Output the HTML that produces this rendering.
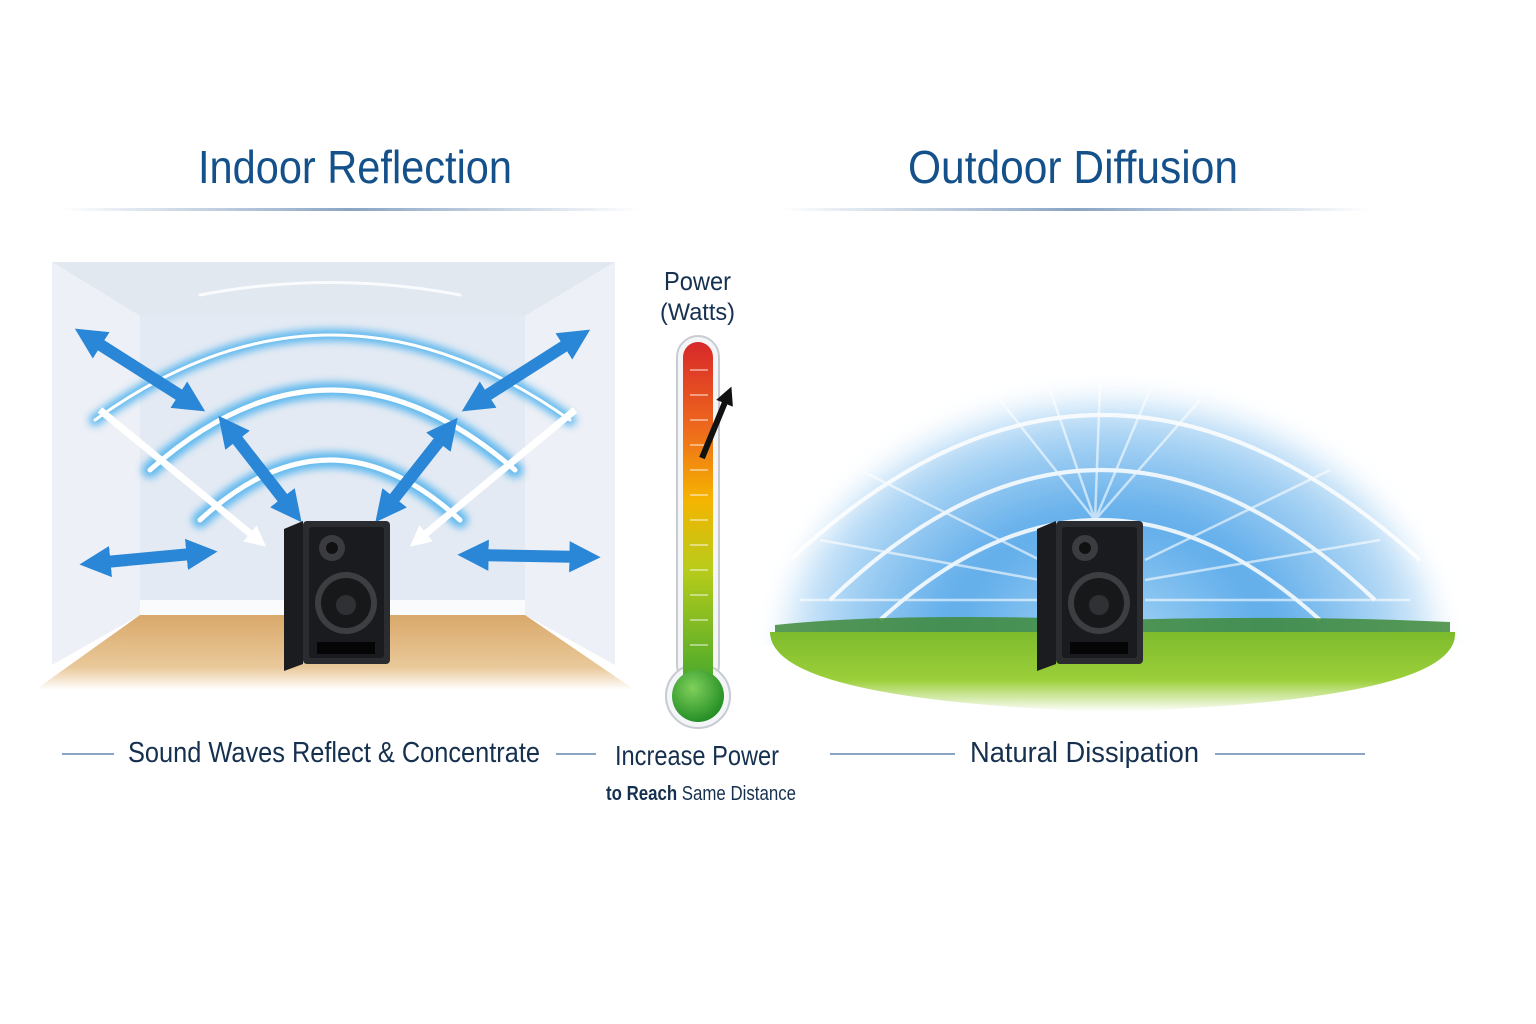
<!DOCTYPE html>
<html><head><meta charset="utf-8"><style>
html,body{margin:0;padding:0;background:#fff}
svg{display:block}
text{font-family:"Liberation Sans",sans-serif}
</style></head><body>
<svg width="1536" height="1024" viewBox="0 0 1536 1024" xmlns="http://www.w3.org/2000/svg">
<defs>
<linearGradient id="ln" x1="0" x2="1"><stop offset="0" stop-color="#8aa4c4" stop-opacity="0"/><stop offset=".5" stop-color="#8aa4c4"/><stop offset="1" stop-color="#8aa4c4" stop-opacity="0"/></linearGradient>
<linearGradient id="floor" x1="0" y1="0" x2="0" y2="1"><stop offset="0" stop-color="#d9a86a"/><stop offset=".7" stop-color="#e9c99a"/><stop offset="1" stop-color="#fff"/></linearGradient>
<linearGradient id="therm" x1="0" y1="0" x2="0" y2="1"><stop offset="0" stop-color="#d8282a"/><stop offset=".25" stop-color="#ee6a1c"/><stop offset=".45" stop-color="#f5b400"/><stop offset=".65" stop-color="#b8cc1a"/><stop offset="1" stop-color="#3fa62e"/></linearGradient>
<radialGradient id="sky" cx="1110" cy="640" r="360" gradientUnits="userSpaceOnUse" gradientTransform="translate(1110 640) scale(1 0.75) translate(-1110 -640)"><stop offset="0" stop-color="#a8d6f6"/><stop offset=".45" stop-color="#5eacea"/><stop offset=".75" stop-color="#a6d2f4"/><stop offset="1" stop-color="#fff"/></radialGradient>
<linearGradient id="grass" x1="0" y1="0" x2="0" y2="1"><stop offset="0" stop-color="#7dbb2c"/><stop offset=".6" stop-color="#9ccf3a"/><stop offset="1" stop-color="#fff"/></linearGradient>
<radialGradient id="bulb" cx=".4" cy=".35" r=".7"><stop offset="0" stop-color="#7fd05a"/><stop offset="1" stop-color="#1f8a22"/></radialGradient>
<filter id="bl"><feGaussianBlur stdDeviation="4"/></filter>
<filter id="bl2" x="-20%" y="-20%" width="140%" height="140%"><feGaussianBlur stdDeviation="14"/></filter>
<clipPath id="skyclip"><rect x="740" y="300" width="760" height="345"/></clipPath>
<marker id="ah" viewBox="0 0 10 10" refX="5" refY="5" markerWidth="2.6" markerHeight="2.6" orient="auto-start-reverse"><path d="M0,0 L10,5 L0,10 z" fill="#2a86d6"/></marker>
<marker id="wh" viewBox="0 0 10 10" refX="5" refY="5" markerWidth="3" markerHeight="3" orient="auto"><path d="M0,0 L10,5 L0,10 z" fill="#fff"/></marker>
<marker id="bk" viewBox="0 0 10 10" refX="5" refY="5" markerWidth="3" markerHeight="3" orient="auto"><path d="M0,0 L10,5 L0,10 z" fill="#111"/></marker>
<g id="spk">
<path d="M0,8 L19,0 L19,143 L0,150 z" fill="#1b1c1f"/>
<rect x="19" y="0" width="87" height="143" rx="4" fill="#2a2c30"/>
<rect x="25" y="6" width="75" height="131" rx="3" fill="#1a1b1e"/>
<circle cx="48" cy="27" r="13" fill="#3a3c40"/><circle cx="48" cy="27" r="6" fill="#111"/>
<circle cx="62" cy="82" r="31" fill="#3c3e42"/><circle cx="62" cy="82" r="25" fill="#17181a"/><circle cx="62" cy="84" r="10" fill="#2f3134"/>
<rect x="33" y="121" width="58" height="12" fill="#050505"/>
</g>
</defs>
<rect width="1536" height="1024" fill="#fff"/>
<text x="198" y="183" font-size="46" fill="#14508a" textLength="314" lengthAdjust="spacingAndGlyphs">Indoor Reflection</text>
<text x="908" y="183" font-size="46" fill="#14508a" textLength="330" lengthAdjust="spacingAndGlyphs">Outdoor Diffusion</text>
<rect x="60" y="208" width="580" height="3" fill="url(#ln)"/>
<rect x="780" y="208" width="590" height="3" fill="url(#ln)"/>

<!-- room -->
<path d="M52,262 L615,262 L525,316 L140,316 z" fill="#e2e8f0"/>
<path d="M52,262 L140,316 L140,615 L52,665 z" fill="#edf0f6"/>
<path d="M615,262 L525,316 L525,615 L615,665 z" fill="#edf0f6"/>
<rect x="140" y="316" width="385" height="299" fill="#e4eaf3"/>
<path d="M140,615 L525,615 L635,690 L35,690 z" fill="url(#floor)"/>
<path d="M140,600 L525,600 L525,615 L140,615 z" fill="#fafbfd"/>
<g fill="none" stroke="#4fb2ee" stroke-linecap="round" filter="url(#bl)" opacity=".9">
<path d="M95,420 Q330,250 570,420" stroke-width="12"/>
<path d="M150,470 Q330,310 515,470" stroke-width="16"/>
<path d="M200,520 Q330,400 460,520" stroke-width="16"/>
</g>
<g fill="none" stroke="#fff" stroke-linecap="round">
<path d="M95,420 Q330,250 570,420" stroke-width="3"/>
<path d="M150,470 Q330,310 515,470" stroke-width="5"/>
<path d="M200,520 Q330,400 460,520" stroke-width="5"/>
<path d="M200,295 Q330,270 460,295" stroke-width="3" opacity=".8"/>
</g>
<g stroke="#fff" stroke-width="7" marker-end="url(#wh)" fill="none">
<line x1="100" y1="410" x2="258" y2="540"/>
<line x1="575" y1="410" x2="418" y2="540"/>
</g>
<g stroke="#2a86d6" stroke-width="12" marker-start="url(#ah)" marker-end="url(#ah)" fill="none">
<line x1="88" y1="337" x2="192" y2="403"/>
<line x1="228" y1="428" x2="292" y2="510"/>
<line x1="577" y1="338" x2="475" y2="403"/>
<line x1="448" y1="430" x2="385" y2="510"/>
<line x1="95" y1="563" x2="202" y2="553"/>
<line x1="473" y1="555" x2="585" y2="557"/>
</g>
<use href="#spk" x="284" y="521"/>

<!-- thermometer -->
<text x="664" y="290" font-size="26" fill="#16304f" textLength="67" lengthAdjust="spacingAndGlyphs">Power</text>
<text x="660" y="320" font-size="24" fill="#16304f" textLength="75" lengthAdjust="spacingAndGlyphs">(Watts)</text>
<rect x="677" y="336" width="42" height="350" rx="21" fill="#f3f5f7" stroke="#c8ccd2" stroke-width="2"/>
<circle cx="698" cy="696" r="32" fill="#f3f5f7" stroke="#c8ccd2" stroke-width="2"/>
<rect x="683" y="342" width="30" height="350" rx="15" fill="url(#therm)"/>
<circle cx="698" cy="696" r="26" fill="url(#bulb)"/>
<g stroke="#fff" stroke-opacity=".6" stroke-width="1.5">
<line x1="690" y1="370" x2="708" y2="370"/><line x1="690" y1="395" x2="708" y2="395"/><line x1="690" y1="420" x2="708" y2="420"/><line x1="690" y1="445" x2="708" y2="445"/><line x1="690" y1="470" x2="708" y2="470"/><line x1="690" y1="495" x2="708" y2="495"/><line x1="690" y1="520" x2="708" y2="520"/><line x1="690" y1="545" x2="708" y2="545"/><line x1="690" y1="570" x2="708" y2="570"/><line x1="690" y1="595" x2="708" y2="595"/><line x1="690" y1="620" x2="708" y2="620"/><line x1="690" y1="645" x2="708" y2="645"/>
</g>
<line x1="702" y1="458" x2="728" y2="395" stroke="#111" stroke-width="6" marker-end="url(#bk)"/>

<!-- outdoor -->
<g clip-path="url(#skyclip)">
<ellipse cx="1110" cy="660" rx="330" ry="260" fill="url(#sky)" filter="url(#bl2)"/>
</g>
<g fill="none" stroke="#fff" stroke-width="4" opacity=".85">
<path d="M790,560 Q1100,270 1420,560"/>
<path d="M830,600 Q1100,340 1375,600"/>
<path d="M880,620 Q1100,420 1320,620"/>
<g stroke-width="2.5" opacity=".7">
<line x1="1095" y1="520" x2="1000" y2="400"/><line x1="1095" y1="520" x2="1050" y2="390"/><line x1="1095" y1="520" x2="1100" y2="385"/><line x1="1095" y1="520" x2="1150" y2="390"/><line x1="1095" y1="520" x2="1200" y2="400"/>
<line x1="1040" y1="560" x2="860" y2="470"/><line x1="1040" y1="580" x2="820" y2="540"/><line x1="1040" y1="600" x2="800" y2="600"/>
<line x1="1145" y1="560" x2="1330" y2="470"/><line x1="1145" y1="580" x2="1380" y2="540"/><line x1="1145" y1="600" x2="1410" y2="600"/>
</g>
</g>
<path d="M775,625 Q900,612 1110,620 Q1300,615 1450,622 L1450,634 L775,636 z" fill="#3f8a3a" opacity=".85"/>
<path d="M770,632 L1455,632 Q1460,700 1110,712 Q770,700 770,632 z" fill="url(#grass)"/>
<use href="#spk" x="1037" y="521"/>

<!-- captions -->
<rect x="62" y="753" width="52" height="2" fill="#8aa4c4"/>
<rect x="556" y="753" width="40" height="2" fill="#8aa4c4"/>
<rect x="830" y="753" width="125" height="2" fill="#8aa4c4"/>
<rect x="1215" y="753" width="150" height="2" fill="#8aa4c4"/>
<text x="128" y="762" font-size="29" fill="#16304f" textLength="412" lengthAdjust="spacingAndGlyphs">Sound Waves Reflect &amp; Concentrate</text>
<text x="970" y="762" font-size="29" fill="#16304f" textLength="229" lengthAdjust="spacingAndGlyphs">Natural Dissipation</text>
<text x="615" y="765" font-size="28" fill="#16304f" textLength="164" lengthAdjust="spacingAndGlyphs">Increase Power</text>
<text x="606" y="800" font-size="20" fill="#16304f" textLength="190" lengthAdjust="spacingAndGlyphs"><tspan font-weight="bold">to Reach</tspan> Same Distance</text>
</svg>
</body></html>
